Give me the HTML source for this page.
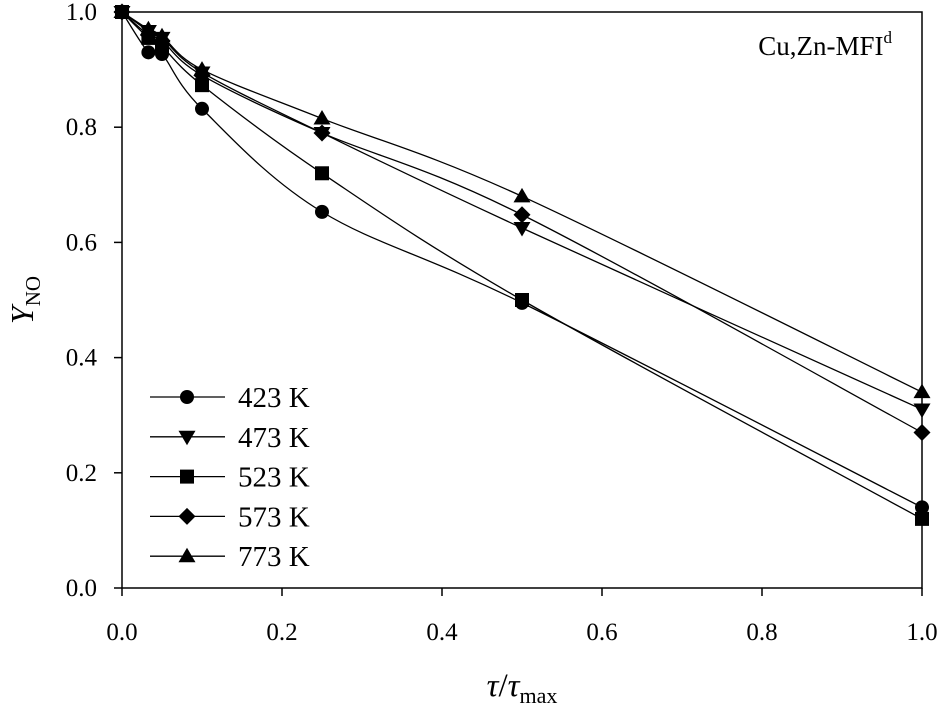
<!DOCTYPE html>
<html><head><meta charset="utf-8"><style>
body{margin:0;background:#fff}
svg{font-family:"Liberation Serif",serif}
</style></head><body>
<svg id="chart" width="944" height="710" viewBox="0 0 944 710"></svg>
<script>
const xValues=[0,0.033,0.05,0.1,0.25,0.5,1];
const seriesNames=["423 K","473 K","523 K","573 K","773 K"];
const s423=[1,0.93,0.927,0.832,0.653,0.495,0.14];
const s473=[1,0.967,0.955,0.895,0.79,0.625,0.31];
const s523=[1,0.955,0.94,0.873,0.72,0.50,0.12];
const s573=[1,0.96,0.95,0.89,0.79,0.648,0.27];
const s773=[1,0.97,0.958,0.90,0.815,0.68,0.34];
const markers=["circle","tri-down","square","diamond","tri-up"];
const xTicks=[0,0.2,0.4,0.6,0.8,1.0];
const yTicks=[0,0.2,0.4,0.6,0.8,1.0];
const NS="http://www.w3.org/2000/svg";
const svg=document.getElementById('chart');
const X0=122,X1=922,Y0=588,Y1=12;
const sx=v=>X0+(X1-X0)*v, sy=v=>Y0-(Y0-Y1)*v;
function el(t,a,p){const e=document.createElementNS(NS,t);for(const k in a)e.setAttribute(k,a[k]);(p||svg).appendChild(e);return e;}
let f=el('path',{d:`M${X0},${Y1}H${X1}V${Y0}H${X0}Z`,fill:'none',stroke:'#000','stroke-width':1.5});


xTicks.forEach(t=>{
 let l=el('line',{x1:sx(t),x2:sx(t),y1:Y0,y2:Y0+8,stroke:'#000','stroke-width':1.5});
 
 
 let tx=el('text',{x:sx(t),y:Y0+52,'text-anchor':'middle','font-size':25});
 tx.textContent=t.toFixed(1);
 
 
});
yTicks.forEach(t=>{
 let l=el('line',{x1:X0-8,x2:X0,y1:sy(t),y2:sy(t),stroke:'#000','stroke-width':1.5});
 
 
 let tx=el('text',{x:X0-25,y:sy(t)+8,'text-anchor':'end','font-size':25});
 tx.textContent=t.toFixed(1);
 
 
});
function marker(type,x,y,g){
 const r=7;let e;
 if(type=='circle')e=el('circle',{cx:x,cy:y,r:r},g);
 else if(type=='square')e=el('rect',{x:x-r,y:y-r,width:2*r,height:2*r},g);
 else if(type=='diamond')e=el('polygon',{points:`${x},${y-8.5} ${x+8.5},${y} ${x},${y+8.5} ${x-8.5},${y}`},g);
 else if(type=='tri-up')e=el('polygon',{points:`${x},${y-8.5} ${x+8.5},${y+6} ${x-8.5},${y+6}`},g);
 else e=el('polygon',{points:`${x},${y+8.5} ${x+8.5},${y-6} ${x-8.5},${y-6}`},g);
 e.setAttribute('fill','#000');
 
 
}
function spline(pts){
 let d=`M${pts[0][0]},${pts[0][1]}`;
 for(let i=0;i<pts.length-1;i++){
  const p0=pts[Math.max(i-1,0)],p1=pts[i],p2=pts[i+1],p3=pts[Math.min(i+2,pts.length-1)];
  const c1=[p1[0]+(p2[0]-p0[0])/6,p1[1]+(p2[1]-p0[1])/6];
  const c2=[p2[0]-(p3[0]-p1[0])/6,p2[1]-(p3[1]-p1[1])/6];
  d+=` C${c1[0]},${c1[1]} ${c2[0]},${c2[1]} ${p2[0]},${p2[1]}`;
 }
 return d;
}
[s423,s473,s523,s573,s773].forEach((s,i)=>{
 const g=el('g',{});
 
 
 const pts=xValues.map((x,j)=>[sx(x),sy(s[j])]);
 let p=el('path',{d:spline(pts),fill:'none',stroke:'#000','stroke-width':1.3},g);
 
 
 pts.forEach(q=>marker(markers[i],q[0],q[1],g));
 const ly=397+i*39.8;
 const lg=el('g',{});
 
 
 el('line',{x1:150,x2:225,y1:ly,y2:ly,stroke:'#000','stroke-width':1.3},lg);
 marker(markers[i],187,ly,lg);
 let t=el('text',{x:238,y:ly+10,'font-size':29},lg);
 t.textContent=seriesNames[i];
});
</script>
<svg width="944" height="710" style="position:absolute;left:0;top:0">
<text x="892" y="55" text-anchor="end" font-size="27" font-family="Liberation Serif">Cu,Zn-MFI<tspan dy="-12" font-size="17">d</tspan></text>
<text transform="translate(33,300) rotate(-90)" text-anchor="middle" font-size="32" font-family="Liberation Serif"><tspan font-style="italic">Y</tspan><tspan font-size="21" dy="7">NO</tspan></text>
<text x="522" y="696" text-anchor="middle" font-size="33" font-family="Liberation Serif"><tspan font-style="italic">τ</tspan>/<tspan font-style="italic">τ</tspan><tspan font-size="22" dy="7">max</tspan></text>
</svg>
</body></html>
